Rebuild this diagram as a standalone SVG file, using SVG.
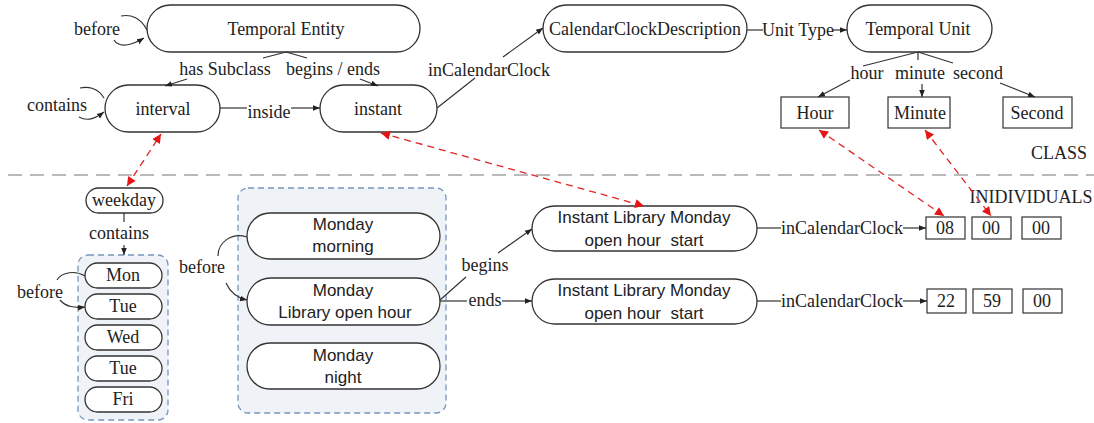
<svg xmlns="http://www.w3.org/2000/svg" width="1094" height="423" viewBox="0 0 1094 423">
<defs>
<style>
.pill{fill:#fff;stroke:#333;stroke-width:1.3}
.box{fill:#fff;stroke:#333;stroke-width:1.2}
.grp{fill:#eff3f8;stroke:#7595bb;stroke-width:1.3;stroke-dasharray:6,4}
.t{font-family:"Liberation Serif","Times New Roman",serif;font-size:18px;fill:#222;text-anchor:middle;dominant-baseline:central}
.s{font-family:"Liberation Sans",Arial,sans-serif;font-size:17px;fill:#222;text-anchor:middle;dominant-baseline:central}
.e{fill:none;stroke:#333;stroke-width:1.2}
.ea{fill:none;stroke:#333;stroke-width:1.2;marker-end:url(#ah)}
.red{fill:none;stroke:#e02424;stroke-width:1.3;stroke-dasharray:7,5;marker-start:url(#rh);marker-end:url(#rh)}
</style>
<marker id="ah" viewBox="0 0 10 10" refX="10" refY="5" markerWidth="7" markerHeight="7" markerUnits="userSpaceOnUse" orient="auto"><path d="M0,1 L10,5 L0,9 z" fill="#222"/></marker>
<marker id="rh" viewBox="0 0 10 10" refX="10" refY="5" markerWidth="10" markerHeight="9" markerUnits="userSpaceOnUse" orient="auto-start-reverse"><path d="M0,0 L10,5 L0,10 z" fill="#e51515"/></marker>
</defs>
<rect width="1094" height="423" fill="#fff"/>

<!-- separator -->
<line x1="8" y1="175" x2="1094" y2="175" stroke="#777" stroke-width="1.2" stroke-dasharray="14,8"/>
<text class="t" x="1059" y="153">CLASS</text>
<text class="t" x="1031" y="197">INIDIVIDUALS</text>

<!-- containers -->
<rect id="days-group" class="grp" x="78" y="255" width="90" height="165" rx="10"/>
<rect id="monday-group" class="grp" x="238" y="188" width="208" height="225" rx="10"/>

<!-- class nodes -->
<g id="temporal-entity"><rect class="pill" x="147" y="5" width="273" height="47" rx="23.5"/><text class="t" x="286" y="29">Temporal Entity</text></g>
<g id="interval"><rect class="pill" x="105" y="85" width="115" height="47" rx="23.5"/><text class="t" x="163" y="109">interval</text></g>
<g id="instant"><rect class="pill" x="320" y="85" width="117" height="47" rx="23.5"/><text class="t" x="378" y="109">instant</text></g>
<g id="calendar-clock-description"><rect class="pill" x="543" y="5" width="204" height="47" rx="23.5"/><text class="t" x="645" y="29">CalendarClockDescription</text></g>
<g id="temporal-unit"><rect class="pill" x="847" y="5" width="145" height="47" rx="23.5"/><text class="t" x="918" y="29">Temporal Unit</text></g>
<g id="hour"><rect class="box" x="781" y="97" width="68" height="31"/><text class="t" x="815" y="113">Hour</text></g>
<g id="minute"><rect class="box" x="888" y="97" width="62" height="31"/><text class="t" x="920" y="113">Minute</text></g>
<g id="second"><rect class="box" x="1003" y="97" width="69" height="31"/><text class="t" x="1037" y="113">Second</text></g>

<!-- individuals -->
<g id="weekday"><rect class="pill" x="86" y="188" width="77" height="25" rx="12.5"/><text class="t" x="124" y="200">weekday</text></g>
<g id="mon"><rect class="pill" x="85" y="263" width="77" height="25" rx="12.5"/><text class="t" x="123" y="275">Mon</text></g>
<g id="tue"><rect class="pill" x="85" y="294" width="77" height="25" rx="12.5"/><text class="t" x="123" y="306">Tue</text></g>
<g id="wed"><rect class="pill" x="85" y="325" width="77" height="25" rx="12.5"/><text class="t" x="123" y="337">Wed</text></g>
<g id="tue2"><rect class="pill" x="85" y="356" width="77" height="25" rx="12.5"/><text class="t" x="123" y="368">Tue</text></g>
<g id="fri"><rect class="pill" x="85" y="387" width="77" height="25" rx="12.5"/><text class="t" x="123" y="399">Fri</text></g>

<g id="monday-morning"><rect class="pill" x="247" y="213" width="193" height="46" rx="23"/><text class="s" x="343" y="224">Monday</text><text class="s" x="343" y="246">morning</text></g>
<g id="monday-library"><rect class="pill" x="247" y="278" width="193" height="47" rx="23.5"/><text class="s" x="343" y="290">Monday</text><text class="s" x="345" y="312">Library open hour</text></g>
<g id="monday-night"><rect class="pill" x="247" y="343" width="193" height="46" rx="23"/><text class="s" x="343" y="355">Monday</text><text class="s" x="343" y="377">night</text></g>

<g id="instant-start"><rect class="pill" x="532" y="206" width="225" height="45" rx="22.5"/><text class="s" x="644" y="217">Instant Library Monday</text><text class="s" x="644" y="240" xml:space="preserve">open hour  start</text></g>
<g id="instant-end"><rect class="pill" x="532" y="279" width="225" height="45" rx="22.5"/><text class="s" x="644" y="290">Instant Library Monday</text><text class="s" x="644" y="313" xml:space="preserve">open hour  start</text></g>

<g id="h08"><rect class="box" x="926" y="217" width="39" height="22"/><text class="t" x="945" y="228">08</text></g>
<g id="m00"><rect class="box" x="972" y="217" width="39" height="22"/><text class="t" x="991" y="228">00</text></g>
<g id="s00"><rect class="box" x="1022" y="217" width="39" height="22"/><text class="t" x="1041" y="228">00</text></g>
<g id="h22"><rect class="box" x="927" y="289" width="39" height="24"/><text class="t" x="946" y="301">22</text></g>
<g id="m59"><rect class="box" x="973" y="289" width="39" height="24"/><text class="t" x="992" y="301">59</text></g>
<g id="s00b"><rect class="box" x="1023" y="289" width="39" height="24"/><text class="t" x="1042" y="301">00</text></g>

<!-- connectors -->
<g id="connectors">
<path class="e" d="M147,30 C141,18 131,14 121,16"/>
<path class="ea" d="M114,40 C119,48 131,46 144,38"/>
<text class="t" x="97" y="29">before</text>

<path class="e" d="M104,98 C98,88 88,86 80,88"/>
<path class="ea" d="M79,117 C88,122 96,118 104,112"/>
<text class="t" x="57" y="105">contains</text>

<path class="e" d="M286,52 L263,58 M286,52 L307,58"/>
<path class="ea" d="M187,79 L165,86"/>
<path class="ea" d="M360,79 L378,86"/>
<text class="t" x="225" y="69">has Subclass</text>
<text class="t" x="333" y="69">begins / ends</text>

<path class="e" d="M220,108 L247,108"/>
<path class="ea" d="M291,108 L320,108"/>
<text class="t" x="269" y="112">inside</text>

<path class="e" d="M437,108 L475,78"/>
<path class="ea" d="M503,57 L543,28"/>
<text class="t" x="489" y="70">inCalendarClock</text>

<path class="e" d="M747,30 L763,30"/>
<path class="ea" d="M833,30 L847,30"/>
<text class="t" x="798" y="30">Unit Type</text>

<path class="e" d="M918,52 L863,66 M918,52 L918,60 M918,52 L953,63"/>
<path class="ea" d="M850,80 L818,97"/>
<path class="ea" d="M922,84 L922,97"/>
<path class="ea" d="M1000,83 L1035,97"/>
<text class="t" x="867" y="73">hour</text>
<text class="t" x="920" y="73">minute</text>
<text class="t" x="978" y="73">second</text>

<path class="e" d="M124,213 L124,222"/>
<path class="ea" d="M124,245 L124,255"/>
<text class="t" x="119" y="233">contains</text>

<path class="e" d="M85,276 C75,270 62,272 57,280"/>
<path class="ea" d="M60,300 C66,307 74,308 85,307"/>
<text class="t" x="40" y="292">before</text>

<path class="e" d="M247,237 C232,232 218,242 218,256"/>
<path class="ea" d="M226,283 C230,292 238,298 247,300"/>
<text class="t" x="202" y="267">before</text>

<path class="e" d="M440,300 L466,277"/>
<path class="ea" d="M498,253 L532,229"/>
<text class="t" x="485" y="265">begins</text>
<path class="e" d="M440,301 L467,301"/>
<path class="ea" d="M502,301 L532,301"/>
<text class="t" x="485" y="300">ends</text>

<path class="e" d="M757,228 L781,228"/>
<path class="ea" d="M903,228 L926,228"/>
<text class="t" x="842" y="228">inCalendarClock</text>
<path class="e" d="M757,301 L781,301"/>
<path class="ea" d="M903,301 L927,301"/>
<text class="t" x="842" y="301">inCalendarClock</text>

<path class="red" d="M127,186 L161,134"/>
<path class="red" d="M381,133 L644,206"/>
<path class="red" d="M819,130 L944,216"/>
<path class="red" d="M925,130 L991,216"/>
</g>
</svg>
